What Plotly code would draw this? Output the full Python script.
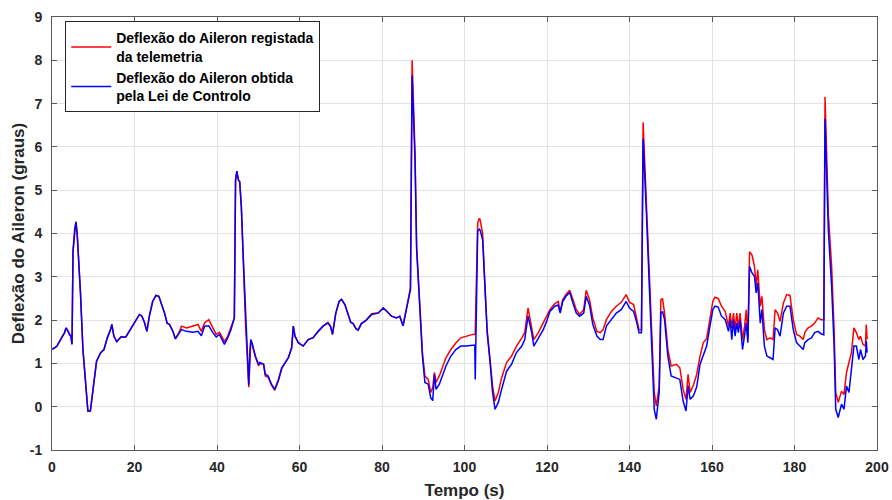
import plotly.graph_objects as go

# Time (s)
tempo = [0.0, 0.5, 1.2, 1.8, 2.5, 3.0, 3.4, 3.9, 4.2, 4.6, 4.85, 5.1, 5.5, 5.8, 6.1, 6.4, 6.9, 7.5, 8.3, 8.7,
         9.3, 9.8, 10.4, 10.8, 11.8, 12.6, 13.4, 14.2, 14.5, 15.0, 15.7, 16.7, 17.9, 18.7, 19.5, 20.4, 21.2, 21.8, 22.4, 23.0,
         23.6, 24.4, 25.2, 25.9, 26.5, 27.3, 27.9, 28.5, 29.3, 29.9, 30.6, 31.4, 32.6, 34.2, 35.4, 36.2, 37.0, 38.0, 39.0, 39.8,
         40.6, 41.8, 42.6, 43.4, 44.2, 44.5, 44.8, 45.2, 45.5, 45.9, 46.4, 46.8, 46.9, 47.7, 48.0, 48.2, 48.5, 49.3, 50.1, 50.4,
         51.3, 51.7, 52.4, 53.2, 54.0, 54.9, 55.7, 56.5, 57.3, 58.1, 58.5, 58.9, 59.7, 60.9, 62.1, 63.3, 64.5, 65.7, 66.9, 67.5,
         68.0, 68.8, 69.6, 70.2, 71.0, 71.8, 72.4, 73.0, 73.7, 74.2, 75.0, 76.2, 77.5, 79.1, 80.3, 81.1, 82.3, 83.5, 84.3, 85.1,
         85.7, 86.3, 86.9, 87.3, 87.6, 88.0, 88.4, 89.2, 89.8, 90.4, 91.2, 91.8, 92.3, 92.7, 93.1, 93.9, 94.7, 95.5, 96.7, 97.9,
         99.1, 100.4, 102.0, 102.5, 102.6, 103.2, 103.6, 103.8, 104.4, 104.9, 105.5, 106.2, 106.8, 107.4, 108.2, 109.0, 110.2, 111.4, 112.6, 113.9,
         114.6, 115.4, 116.3, 116.8, 117.9, 119.1, 119.9, 120.7, 121.9, 122.7, 123.2, 123.8, 124.6, 125.5, 126.3, 127.1, 127.9, 128.9, 129.5, 130.3,
         131.1, 132.1, 132.9, 133.6, 134.4, 135.6, 136.8, 138.0, 139.2, 140.0, 141.0, 141.8, 142.3, 142.9, 143.3, 144.1, 144.9, 145.6, 146.0, 146.5,
         147.2, 147.6, 148.0, 148.5, 149.3, 150.1, 151.4, 152.2, 153.0, 153.7, 154.2, 154.7, 155.5, 156.3, 157.1, 157.9, 158.7, 159.5, 160.2, 160.7,
         161.5, 162.3, 163.2, 164.0, 164.4, 164.8, 165.2, 165.6, 166.0, 166.4, 166.8, 167.4, 167.9, 168.3, 168.7, 169.1, 169.7, 170.3, 170.7, 171.1,
         171.7, 172.1, 172.7, 173.3, 174.1, 174.8, 175.3, 175.9, 176.5, 177.3, 178.1, 178.9, 179.7, 180.5, 181.3, 182.1, 182.5, 183.3, 184.1, 184.9,
         185.7, 186.5, 187.1, 187.4, 188.2, 189.0, 189.6, 190.0, 190.6, 191.4, 192.0, 192.6, 193.2, 193.8, 194.4, 195.0, 195.6, 196.0, 196.6, 197.2,
         197.4, 197.6]

# Aileron deflection from telemetry (deg)
telemetria = [1.33, 1.35, 1.40, 1.52, 1.63, 1.70, 1.82, 1.75, 1.66, 1.63, 1.44, 3.60, 4.10, 4.27, 4.00, 3.55, 2.63, 1.32, 0.25, -0.10,
              -0.10, 0.25, 0.71, 1.05, 1.25, 1.32, 1.59, 1.78, 1.90, 1.63, 1.50, 1.61, 1.61, 1.74, 1.86, 2.01, 2.13, 2.09, 1.95, 1.74,
              2.09, 2.43, 2.57, 2.55, 2.40, 2.16, 1.93, 1.90, 1.74, 1.57, 1.67, 1.86, 1.82, 1.86, 1.90, 1.74, 1.94, 2.01, 1.82, 1.67,
              1.72, 1.51, 1.63, 1.82, 2.05, 5.23, 5.44, 5.23, 5.20, 4.62, 3.39, 2.55, 1.95, 0.45, 1.30, 1.50, 1.45, 1.15, 0.94, 1.00,
              0.98, 0.71, 0.68, 0.50, 0.38, 0.60, 0.88, 1.00, 1.13, 1.36, 1.86, 1.63, 1.48, 1.40, 1.55, 1.60, 1.74, 1.86, 1.95, 1.86,
              1.67, 2.16, 2.43, 2.48, 2.36, 2.13, 1.95, 1.92, 1.80, 1.77, 1.92, 2.00, 2.15, 2.17, 2.28, 2.21, 2.09, 2.05, 2.09, 1.87,
              2.16, 2.43, 2.75, 8.00, 7.20, 5.90, 3.70, 2.15, 1.25, 0.71, 0.63, 0.33, 0.44, 0.79, 0.56, 0.71, 0.94, 1.13, 1.32, 1.47,
              1.59, 1.63, 1.67, 1.67, 1.70, 4.25, 4.35, 4.31, 4.00, 2.90, 1.75, 1.09, 0.48, 0.13, 0.33, 0.67, 1.02, 1.17, 1.40, 1.59,
              1.71, 2.28, 1.78, 1.55, 1.71, 1.93, 2.09, 2.24, 2.38, 2.43, 2.20, 2.47, 2.59, 2.69, 2.47, 2.24, 2.13, 2.24, 2.69, 2.47,
              2.05, 1.74, 1.71, 1.78, 2.01, 2.20, 2.32, 2.41, 2.59, 2.41, 2.36, 2.01, 1.78, 1.77, 6.57, 4.69, 2.86, 1.25, 0.33, 0.02,
              0.48, 2.47, 2.50, 2.16, 1.32, 0.94, 0.98, 0.90, 0.40, 0.17, 0.75, 0.33, 0.50, 0.75, 1.17, 1.48, 1.57, 2.03, 2.43, 2.53,
              2.50, 2.32, 2.20, 1.86, 2.16, 1.82, 2.16, 1.78, 2.16, 1.82, 2.16, 1.55, 1.86, 2.24, 1.55, 3.58, 3.50, 3.24, 2.78, 3.16,
              2.32, 2.55, 1.78, 1.55, 1.59, 1.55, 2.24, 2.16, 1.97, 2.39, 2.59, 2.57, 2.01, 1.67, 1.63, 1.55, 1.71, 1.82, 1.86, 1.93,
              2.05, 2.01, 2.01, 7.15, 4.46, 3.24, 1.78, 0.33, 0.10, 0.36, 0.28, 0.79, 1.02, 1.25, 1.82, 1.71, 1.55, 1.63, 1.44, 1.40,
              1.90, 1.55]

# Aileron deflection from control law (deg)
lei_controlo = [1.33, 1.35, 1.40, 1.51, 1.63, 1.70, 1.82, 1.74, 1.66, 1.62, 1.44, 3.60, 4.10, 4.27, 4.00, 3.55, 2.63, 1.32, 0.25, -0.10,
                -0.10, 0.25, 0.71, 1.05, 1.25, 1.32, 1.59, 1.78, 1.90, 1.63, 1.50, 1.61, 1.61, 1.74, 1.86, 2.01, 2.13, 2.09, 1.95, 1.74,
                2.09, 2.43, 2.57, 2.55, 2.40, 2.16, 1.93, 1.90, 1.74, 1.57, 1.67, 1.78, 1.74, 1.72, 1.74, 1.64, 1.86, 1.87, 1.71, 1.61,
                1.67, 1.44, 1.59, 1.78, 2.05, 5.23, 5.44, 5.23, 5.20, 4.62, 3.39, 2.55, 2.50, 0.50, 1.32, 1.55, 1.47, 1.17, 0.97, 1.02,
                0.98, 0.75, 0.71, 0.52, 0.40, 0.63, 0.90, 1.02, 1.13, 1.36, 1.86, 1.63, 1.48, 1.40, 1.55, 1.59, 1.74, 1.86, 1.93, 1.86,
                1.67, 2.16, 2.43, 2.48, 2.36, 2.13, 1.95, 1.92, 1.80, 1.77, 1.92, 2.00, 2.13, 2.16, 2.28, 2.21, 2.09, 2.05, 2.09, 1.87,
                2.16, 2.43, 2.70, 7.65, 6.90, 5.70, 3.62, 2.09, 1.17, 0.56, 0.52, 0.21, 0.14, 0.75, 0.40, 0.52, 0.71, 0.94, 1.17, 1.32,
                1.40, 1.40, 1.42, 1.42, 0.63, 4.05, 4.10, 4.08, 3.85, 2.78, 1.71, 1.02, 0.33, -0.06, 0.10, 0.40, 0.82, 0.98, 1.25, 1.40,
                1.55, 2.09, 1.71, 1.40, 1.59, 1.78, 1.97, 2.20, 2.32, 2.35, 2.16, 2.43, 2.55, 2.64, 2.39, 2.16, 2.09, 2.16, 2.55, 2.35,
                1.90, 1.63, 1.55, 1.55, 1.86, 2.01, 2.16, 2.24, 2.43, 2.28, 2.20, 1.93, 1.71, 1.71, 6.19, 4.46, 2.63, 0.79, -0.06, -0.29,
                0.33, 2.16, 2.20, 2.01, 1.17, 0.71, 0.67, 0.63, 0.13, -0.10, 0.48, 0.17, 0.25, 0.46, 0.98, 1.17, 1.40, 1.86, 2.24, 2.32,
                2.30, 2.09, 2.01, 1.74, 2.01, 1.55, 2.01, 1.63, 1.93, 1.71, 2.01, 1.32, 1.71, 1.93, 1.48, 3.24, 3.09, 3.01, 2.63, 2.86,
                1.93, 2.24, 1.40, 1.17, 1.13, 1.09, 1.82, 1.78, 1.63, 2.16, 2.32, 2.32, 1.78, 1.48, 1.40, 1.32, 1.48, 1.55, 1.59, 1.71,
                1.74, 1.68, 1.66, 6.65, 4.08, 2.78, 1.40, -0.06, -0.25, 0.06, -0.06, 0.48, 0.33, 0.86, 1.40, 1.40, 1.09, 1.32, 1.09, 1.17,
                1.52, 1.25]

x_ticks = [0, 20, 40, 60, 80, 100, 120, 140, 160, 180, 200]
y_ticks = [-1, 0, 1, 2, 3, 4, 5, 6, 7, 8, 9]

FONT = "Liberation Sans, Arial, sans-serif"
AX = "#262626"

fig = go.Figure()
fig.add_trace(go.Scatter(x=tempo, y=telemetria, mode="lines",
                         line=dict(color="#ff0000", width=1.5),
                         name="Deflexão do Aileron registada<br>da telemetria"))
fig.add_trace(go.Scatter(x=tempo, y=lei_controlo, mode="lines",
                         line=dict(color="#0000ff", width=1.5),
                         name="Deflexão do Aileron obtida<br>pela Lei de Controlo"))

axis_common = dict(showline=True, linecolor="#5a5a5a", linewidth=1, mirror="ticks",
                   ticks="inside", ticklen=5, tickcolor="#5a5a5a",
                   showgrid=True, gridcolor="#e3e3e3", gridwidth=1, zeroline=False,
                   automargin=False, ticklabeloverflow="allow",
                   tickfont=dict(family=FONT, size=14, color=AX, weight="bold"))

fig.update_xaxes(range=[0, 200], tickvals=x_ticks, ticktext=[str(v) for v in x_ticks],
                 ticklabelstandoff=4,
                 title=dict(text="Tempo (s)", font=dict(family=FONT, size=17, color=AX, weight="bold"), standoff=12),
                 **axis_common)
fig.update_yaxes(range=[-1, 9], tickvals=y_ticks, ticktext=[str(v) for v in y_ticks],
                 ticklabelstandoff=6,
                 title=dict(text="Deflexão do Aileron (graus)", font=dict(family=FONT, size=17, color=AX, weight="bold"), standoff=0),
                 **axis_common)

fig.update_layout(
    width=892, height=500,
    margin=dict(l=52, r=15, t=17, b=50),
    paper_bgcolor="white", plot_bgcolor="white",
    showlegend=True,
    legend=dict(x=0.016, y=0.99, xanchor="left", yanchor="top",
                bgcolor="white", bordercolor="#262626", borderwidth=1,
                itemwidth=40,
                font=dict(family=FONT, size=14, color="#000000", weight="bold"),
                tracegroupgap=2),
)

# remove the page's default body margin so the 892x500 figure fills the window
fig.write_html("out.html", config={"displayModeBar": False},
               post_script="document.body.style.margin='0';")
